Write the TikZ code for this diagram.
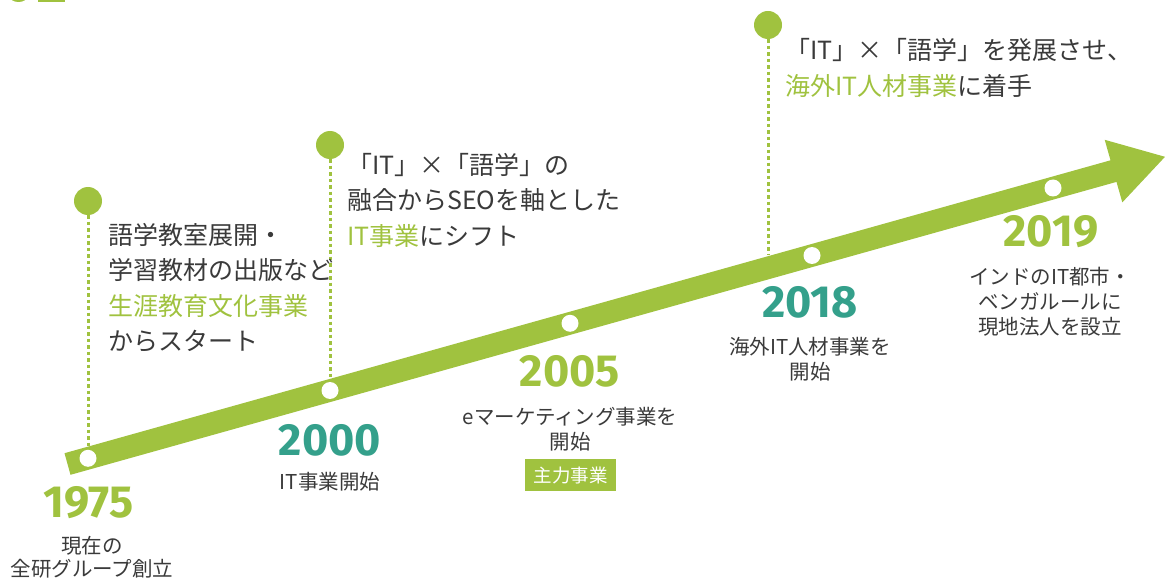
\documentclass[tikz,border=0pt]{standalone}
\usepackage{fontspec}
\setmainfont{Noto Sans CJK JP}
\newfontfamily\yearfont{Fira Sans}
\definecolor{grn}{HTML}{A0C23F}
\definecolor{tealc}{HTML}{34A08B}
\definecolor{txt}{HTML}{3A3A3A}
\tikzset{
  wdot/.style={circle, fill=white, inner sep=0pt, minimum size=17pt},
  gdot/.style={circle, fill=grn, inner sep=0pt, minimum size=28pt},
  dotline/.style={grn, line width=3pt, dash pattern=on 3.5pt off 3pt},
  bigtext/.style={font=\fontsize{25}{35.5}\selectfont, text=txt, align=left, inner sep=0pt, anchor=west},
  desc/.style={font=\fontsize{20.5}{25}\selectfont, text=txt, align=center, inner sep=0pt},
  yeargrn/.style={font=\yearfont\bfseries\fontsize{45}{45}\selectfont, text=grn, inner sep=0pt},
  yeartl/.style={font=\yearfont\bfseries\fontsize{45}{45}\selectfont, text=tealc, inner sep=0pt},
  tagbox/.style={fill=grn, text=white, font=\fontsize{18.5}{18.5}\selectfont, inner sep=0pt, minimum width=91pt, minimum height=32pt}
}
\begin{document}
\begin{tikzpicture}[x=1pt,y=-1pt]
\useasboundingbox (0,0) rectangle (1165,580);
% partial shapes at top-left edge
\fill[grn] (18.5,-4) ellipse (9 and 6);
\fill[grn] (38,0) rectangle (65,1.6);
% main arrow
\fill[grn] (64.5,453.2) -- (1110.5,160.3) -- (1104.7,139.8) -- (1165,156.8)
  -- (1122.3,202.4) -- (1116.5,181.9) -- (70.5,474.8) -- cycle;
% white markers on arrow
\node[wdot] (w1) at (88,458.3) {};
\node[wdot] (w2) at (330,390.5) {};
\node[wdot] (w3) at (570,323.3) {};
\node[wdot] (w4) at (812,255.5) {};
\node[wdot] (w5) at (1053,188) {};
% green dots with dotted leaders
\node[gdot] (g1) at (88,201) {};
\node[gdot] (g2) at (330,145) {};
\node[gdot] (g3) at (768,25) {};
\coordinate (b1) at (88,446.5);
\coordinate (b2) at (330,378.5);
\coordinate (b3) at (768,255);
\draw[dotline] (g1.south) -- (b1);
\draw[dotline] (g2.south) -- (b2);
\draw[dotline] (g3.south) -- (b3);
% upper text blocks
\node[bigtext] (t1) at (108,288) {語学教室展開・\\学習教材の出版など\\\textcolor{grn}{生涯教育文化事業}\\からスタート};
\node[bigtext] (t2) at (347,200) {「IT」×「語学」の\\融合からSEOを軸とした\\\textcolor{grn}{IT事業}にシフト};
\node[bigtext] (t3) at (785,68) {「IT」×「語学」を発展させ、\\\textcolor{grn}{海外IT人材事業}に着手};
% years
\node[yeargrn] (y1) at (88.5,502.5) {1975};
\node[yeartl] (y2) at (330,440) {2000};
\node[yeargrn] (y3) at (570,371) {2005};
\node[yeartl] (y4) at (810,302.5) {2018};
\node[yeargrn] (y5) at (1051,232) {2019};
% descriptions
\node[desc, font=\fontsize{20.5}{23}\selectfont] (d1) at (92,557.5) {現在の\\全研グループ創立};
\node[desc] (d2) at (330,482) {IT事業開始};
\node[desc] (d3) at (570,429.5) {eマーケティング事業を\\開始};
\node[tagbox] (k3) at (570.5,475) {主力事業};
\node[desc] (d4) at (810,359.5) {海外IT人材事業を\\開始};
\node[desc] (d5) at (1050,301.5) {インドのIT都市・\\ベンガルールに\\現地法人を設立};
\end{tikzpicture}
\end{document}
